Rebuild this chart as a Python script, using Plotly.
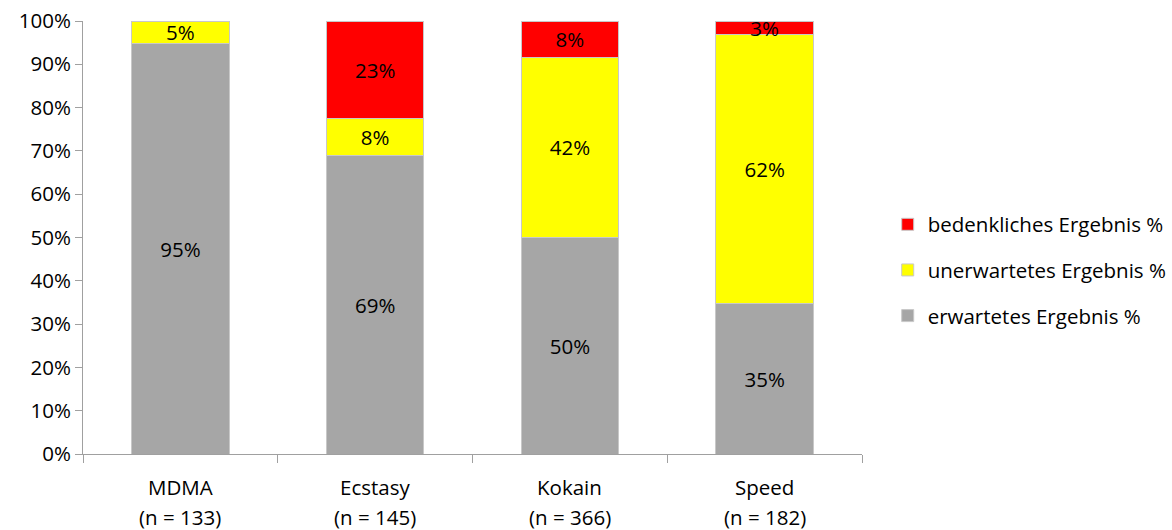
import plotly.graph_objects as go

categories = ["MDMA", "Ecstasy", "Kokain", "Speed"]
n_values = [133, 145, 366, 182]
erwartet = [94.8, 69.0, 50.0, 34.8]
unerwartet = [5.2, 8.4, 41.6, 62.0]
bedenklich = [0.0, 22.6, 8.4, 3.2]
n_labels = [f"(n = {n})" for n in n_values]

FONT = "Open Sans"
FS = 20.5
series = [
    ("erwartetes Ergebnis %", erwartet, "#a6a6a6", 3),
    ("unerwartetes Ergebnis %", unerwartet, "#ffff00", 2),
    ("bedenkliches Ergebnis %", bedenklich, "#ff0000", 1),
]

fig = go.Figure()
for name, vals, col, rank in series:
    texts = [f"{v:.0f}%" if v > 0 else "" for v in vals]
    fig.add_trace(go.Bar(
        x=categories, y=vals, name=name, legendrank=rank, legendgroup=name,
        marker=dict(color=col, line=dict(color="#c8c8c8", width=1)),
        text=texts, textposition="inside", insidetextanchor="middle",
        textfont=dict(color="black", size=FS, family=FONT),
        textangle=0, constraintext="none",
        hoverinfo="skip",
    ))

for c, lab in zip(categories, n_labels):
    fig.add_annotation(x=c, y=0, xref="x", yref="paper", text=c, showarrow=False,
                       yanchor="middle", yshift=-33, font=dict(size=FS, family=FONT, color="black"))
    fig.add_annotation(x=c, y=0, xref="x", yref="paper", text=lab, showarrow=False,
                       yanchor="middle", yshift=-63, font=dict(size=FS, family=FONT, color="black"))

fig.update_layout(
    barmode="stack",
    bargap=0.5,
    width=1172, height=530,
    margin=dict(l=83, r=310, t=21, b=76, autoexpand=False),
    paper_bgcolor="white", plot_bgcolor="white",
    font=dict(family=FONT, size=FS, color="black"),
    legend=dict(
        traceorder="grouped", tracegroupgap=16,
        x=1.033, xanchor="left", y=0.425, yanchor="middle",
        font=dict(size=FS, family=FONT),
        itemwidth=30,
    ),
    showlegend=True,
)
fig.update_xaxes(
    showticklabels=False, automargin=False,
    showline=True, linecolor="#a0a0a0", linewidth=1,
    ticks="outside", tickson="boundaries", ticklen=8, tickcolor="#a0a0a0",
    showgrid=False,
)
fig.update_yaxes(
    range=[0, 100], dtick=10, ticksuffix="%", automargin=False,
    showline=True, linecolor="#a0a0a0", linewidth=1,
    ticks="outside", ticklen=7, tickcolor="#a0a0a0",
    showgrid=False, zeroline=False, tickfont=dict(size=FS, family=FONT),
)

fig.write_html("out.html")
